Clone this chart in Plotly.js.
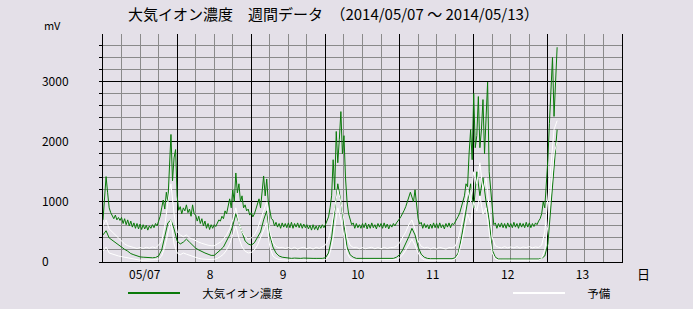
<!DOCTYPE html>
<html><head><meta charset="utf-8">
<script src="https://cdn.plot.ly/plotly-3.0.1.min.js"></script>
<style>html,body{margin:0;padding:0;background:#E4E0E8;}</style>
</head><body><div id="chart" style="width:693px;height:309px;"></div>
<script>
const seriesNames = ["大気イオン濃度", "予備"];
const dayLabels = ["05/07", "8", "9", "10", "11", "12", "13"];
const yTickValues = [0, 1000, 2000, 3000];
const yTickLabels = ["0\u2007\u2007\u2007", "1000", "2000", "3000"];
const chartTitle = "大気イオン濃度　週間データ　（2014/05/07 ～ 2014/05/13）";

// main ion concentration, every 30 min from 05/07 00:00
const ionMain = [
  700, 1000, 1420, 1150, 900, 820, 760, 720, 780, 700, 740, 690,
  740, 640, 720, 620, 700, 600, 680, 580, 650, 560, 640, 550,
  630, 540, 620, 550, 610, 530, 600, 560, 620, 570, 640, 600,
  680, 760, 900, 1030, 880, 1160, 1000, 1500, 2120, 1350, 1730, 1870,
  1100, 860, 920, 800, 900, 850, 950, 820, 880, 760, 950, 800,
  780, 680, 760, 640, 720, 600, 680, 560, 640, 540, 620, 560,
  620, 590, 650, 700, 680, 760, 720, 850, 800, 950, 1050, 900,
  1200, 1000, 1480, 1150, 1300, 1000, 1100, 900, 950, 850, 880, 780,
  820, 750, 800, 880, 950, 1050, 900, 1200, 1430, 1100, 1380, 1000,
  850, 720, 700, 600, 660, 580, 640, 560, 650, 580, 640, 570,
  650, 570, 660, 560, 640, 580, 650, 570, 640, 560, 630, 570,
  620, 550, 610, 530, 620, 540, 600, 530, 610, 560, 620, 570,
  620, 680, 750, 900, 1100, 1700, 1200, 2170, 1650, 2040, 2500, 1800,
  2100, 1400, 1000, 800, 700, 620, 650, 560, 640, 570, 620, 560,
  640, 570, 650, 550, 630, 560, 650, 570, 620, 550, 640, 580,
  640, 560, 650, 570, 630, 550, 620, 580, 640, 600, 650, 680,
  720, 760, 800, 860, 920, 1000, 1050, 1160, 1080, 1000, 1200, 900,
  720, 630, 660, 560, 640, 570, 620, 550, 630, 560, 650, 570,
  640, 560, 650, 570, 620, 550, 640, 580, 650, 570, 640, 620,
  660, 700, 760, 820, 900, 1000, 1100, 1300, 1250, 1800, 2200, 1700,
  2800, 1900, 2100, 2750, 1900, 2200, 2700, 1800, 2300, 2990, 1500, 1200,
  800, 620, 650, 560, 640, 580, 650, 570, 640, 560, 650, 580,
  640, 570, 660, 580, 640, 560, 650, 580, 640, 570, 660, 580,
  650, 570, 640, 590, 650, 620, 680, 720, 800, 1000, 900, 1300,
  1700, 2300, 3000, 3400, 2420, 3100, 3570
];
// secondary ion trace, hourly
const ionSub = [
  450, 520, 400, 360, 330, 280, 250, 210, 180, 140, 120, 100,
  85, 80, 75, 70, 70, 75, 100, 200, 400, 650, 700, 550,
  350, 300, 330, 380, 330, 280, 230, 200, 170, 150, 130, 110,
  110, 150, 200, 250, 350, 450, 600, 800, 650, 500, 350, 300,
  280, 320, 400, 500, 700, 850, 450, 250, 150, 100, 80, 70,
  65, 60, 65, 60, 60, 65, 60, 55, 60, 60, 55, 60,
  70, 150, 400, 900, 1300, 1000, 600, 250, 120, 80, 60, 60,
  55, 60, 60, 55, 60, 55, 60, 60, 55, 60, 60, 80,
  120, 200, 300, 420, 560, 450, 250, 130, 80, 60, 55, 55,
  55, 50, 55, 55, 50, 55, 70, 150, 400, 700, 1000, 1300,
  900, 1500, 1100, 1400, 1000, 700, 200, 80, 50, 50, 45, 50,
  50, 45, 50, 50, 45, 50, 50, 50, 45, 50, 60, 100,
  300, 900, 1600, 2200
];
// spare channel, hourly
const spareMain = [
  600, 700, 550, 500, 450, 400, 350, 300, 270, 250, 240, 225,
  240, 225, 245, 230, 250, 235, 280, 350, 600, 1000, 1300, 800,
  500, 450, 420, 450, 400, 380, 350, 330, 310, 290, 280, 270,
  270, 300, 330, 380, 450, 550, 700, 900, 650, 500, 420, 380,
  400, 450, 550, 700, 850, 1000, 500, 320, 260, 235, 245, 225,
  240, 220, 245, 215, 235, 245, 220, 240, 215, 245, 225, 250,
  280, 380, 600, 900, 1200, 1000, 700, 400, 280, 240, 245, 220,
  240, 220, 235, 245, 220, 240, 220, 245, 225, 240, 240, 260,
  320, 400, 500, 620, 700, 550, 350, 260, 235, 245, 220, 240,
  220, 245, 225, 215, 240, 235, 260, 380, 600, 850, 1200, 1000,
  1500, 1300, 1650, 1200, 1400, 900, 400, 270, 245, 235, 255, 235,
  250, 235, 255, 230, 250, 240, 255, 235, 250, 240, 280, 500,
  1000, 1600, 2200, 2350
];
const spareSub = [
  180, 250, 150, 130, 120, 100, 90, 80, 70, 50, 40, 35,
  30, 30, 30, 30, 35, 40, 50, 100, 250, 500, 700, 300,
  150, 120, 150, 130, 110, 90, 70, 60, 50, 45, 40, 40,
  45, 60, 90, 130, 200, 300, 450, 600, 400, 250, 180, 150,
  160, 200, 280, 400, 550, 650, 250, 100, 60, 40, 35, 30,
  30, 35, 30, 30, 35, 30, 30, 35, 30, 30, 35, 30,
  40, 80, 250, 600, 900, 700, 400, 150, 60, 35, 30, 30,
  30, 35, 30, 30, 35, 30, 30, 35, 30, 30, 30, 40,
  70, 120, 200, 300, 380, 280, 150, 70, 35, 30, 30, 30,
  30, 35, 30, 30, 35, 30, 50, 120, 300, 550, 800, 650,
  1000, 850, 1100, 800, 900, 500, 150, 50, 30, 30, 35, 30,
  30, 35, 30, 30, 35, 30, 30, 30, 35, 30, 60, 200,
  600, 1200, 1800, 2000
];

const halfHours = ionMain.map((_, i) => i * 0.5);
const hours = ionSub.map((_, i) => i);

const GREEN = '#0A7A0A';
const WHITE = '#FFFFFF';
const BG = '#E4E0E8';
const FONT = '"Noto Sans CJK JP", "Noto Sans", sans-serif';
const PAD = '\u3000\u2002';

const traces = [
  {x: hours, y: ionSub, type: 'scatter', mode: 'lines', line: {color: GREEN, width: 1}, showlegend: false, hoverinfo: 'skip'},
  {x: halfHours, y: ionMain, type: 'scatter', mode: 'lines', line: {color: GREEN, width: 1}, showlegend: false, hoverinfo: 'skip'},
  {x: hours, y: spareMain, type: 'scatter', mode: 'lines', line: {color: WHITE, width: 1}, showlegend: false, hoverinfo: 'skip'},
  {x: hours, y: spareSub, type: 'scatter', mode: 'lines', line: {color: WHITE, width: 1}, showlegend: false, hoverinfo: 'skip'},
  {x: [null], y: [null], type: 'scatter', mode: 'lines', name: PAD + seriesNames[0], line: {color: GREEN, width: 2}, legend: 'legend'},
  {x: [null], y: [null], type: 'scatter', mode: 'lines', name: PAD + seriesNames[1], line: {color: WHITE, width: 2}, legend: 'legend2'},
  {x: [null], y: [null], xaxis: 'x2', yaxis: 'y', type: 'scatter', mode: 'lines', showlegend: false, hoverinfo: 'skip'}
];

const legendBase = {
  xref: 'container', yref: 'container', xanchor: 'left', yanchor: 'middle',
  bgcolor: 'rgba(0,0,0,0)', font: {size: 11.5, color: '#000', family: FONT},
  itemwidth: 52, orientation: 'h'
};

const layout = {
  width: 693, height: 309,
  paper_bgcolor: BG, plot_bgcolor: BG,
  margin: {l: 103, r: 71, t: 34, b: 47},
  font: {family: FONT, color: '#000', size: 12},
  title: {text: chartTitle, xref: 'paper', x: 0.048, xanchor: 'left', yref: 'container', y: 0.951, yanchor: 'middle', font: {size: 15, color: '#000', family: FONT}},
  xaxis: {
    range: [0, 168], tick0: 0, dtick: 24, showgrid: true, gridcolor: '#000', gridwidth: 1,
    showticklabels: false, ticks: '', showline: true, linecolor: '#000', linewidth: 1, zeroline: false,
    minor: {dtick: 6, showgrid: true, gridcolor: '#8a8a8a', gridwidth: 1}, fixedrange: true
  },
  xaxis2: {
    overlaying: 'x', anchor: 'y', side: 'bottom', range: [0, 168],
    tickvals: [13.5, 34.7, 58.3, 82.5, 106.7, 131, 155.2], ticktext: dayLabels,
    showgrid: false, showline: false, zeroline: false, ticks: '', ticklabelstandoff: 4,
    tickfont: {size: 12, family: FONT}
  },
  yaxis: {
    range: [0, 3790], tickvals: yTickValues, ticktext: yTickLabels, showgrid: true, gridcolor: '#000', gridwidth: 1,
    ticks: 'outside', ticklen: 3, tickcolor: '#000', showline: true, linecolor: '#000', linewidth: 1,
    mirror: true, zeroline: false, ticklabelstandoff: 28, tickfont: {size: 12, family: FONT},
    minor: {dtick: 200, tick0: 0, showgrid: true, gridcolor: '#8a8a8a', gridwidth: 1, ticks: 'outside', ticklen: 3, tickcolor: '#000'},
    fixedrange: true
  },
  legend: Object.assign({}, legendBase, {x: 123 / 693, y: 1 - 293 / 309}),
  legend2: Object.assign({}, legendBase, {x: 508 / 693, y: 1 - 293 / 309}),
  annotations: [
    {text: 'mV', xref: 'paper', yref: 'paper', x: -0.098, y: 1.0395, xanchor: 'center', yanchor: 'middle', showarrow: false, font: {size: 11, family: FONT}},
    {text: '日', xref: 'paper', yref: 'paper', x: 1.042, y: -0.05, xanchor: 'center', yanchor: 'middle', showarrow: false, font: {size: 13, family: FONT}}
  ],
  showlegend: true
};

Plotly.newPlot('chart', traces, layout, {displayModeBar: false, staticPlot: true});
</script>
</body></html>
